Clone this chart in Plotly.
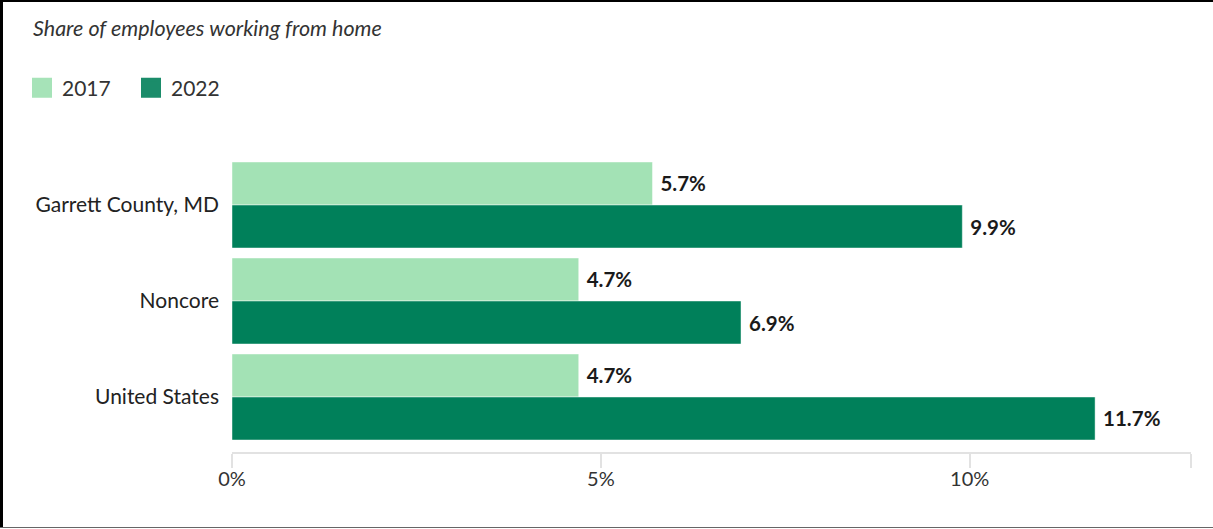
import plotly.graph_objects as go

categories = ["Garrett County, MD", "Noncore", "United States"]
years = ["2017", "2022"]
values_2017 = [5.7, 4.7, 4.7]
values_2022 = [9.9, 6.9, 11.7]
tick_values = [0, 5, 10, 13]
tick_labels = ["0%", "5%", "10%", ""]

colors = {"2017": "#a3e2b5", "2022": "#00805a"}
legend_colors = {"2017": "#a6e3b8", "2022": "#1b8c6a"}
FONT = "Lato, 'Open Sans', sans-serif"

W, H = 1213, 529
L, R, T, B = 232, 22, 157, 77
pw, ph = W - L - R, H - T - B


def px_x(p):
    return (p - L) / pw


def px_y(q):
    return (H - B - q) / ph


fig = go.Figure()
for yr, vals in zip(years, [values_2017, values_2022]):
    fig.add_trace(go.Bar(
        y=categories, x=vals, orientation="h", name=yr,
        marker=dict(color=colors[yr], line=dict(color="rgba(255,255,255,0.45)", width=1)),
        texttemplate=" %{x:.1f}%", textposition="outside",
        textfont=dict(family=FONT, size=20.5, color="#1a1a1a", weight="bold"),
        cliponaxis=False, showlegend=False, hoverinfo="skip",
    ))

for yr in years:
    fig.add_trace(go.Scatter(
        x=[None], y=[None], mode="markers", name=yr,
        marker=dict(symbol="square", size=16, color=legend_colors[yr],
                    line=dict(color=legend_colors[yr], width=4)),
        showlegend=True,
    ))

fig.update_layout(
    width=W, height=H,
    margin=dict(l=L, r=R, t=T, b=B),
    paper_bgcolor="white", plot_bgcolor="white",
    barmode="group", bargap=0.104, bargroupgap=0,
    font=dict(family=FONT, color="#333"),
    showlegend=True,
    legend=dict(
        orientation="h", x=px_x(22), y=px_y(88), xanchor="left", yanchor="middle",
        font=dict(family=FONT, size=21, color="#333"),
        itemsizing="trace", bgcolor="rgba(0,0,0,0)", tracegroupgap=0,
        entrywidth=64, entrywidthmode="pixels",
    ),
    xaxis=dict(
        range=[0, 13], tickvals=tick_values, ticktext=tick_labels,
        showgrid=False, zeroline=False, showline=True, linecolor="#e2e2e2", linewidth=2,
        ticks="outside", ticklen=14, tickwidth=2, tickcolor="#e2e2e2",
        ticklabelstandoff=-6,
        tickfont=dict(family=FONT, size=20, color="#333"),
    ),
    yaxis=dict(
        categoryorder="array", categoryarray=categories,
        range=[2.573, -0.5], showgrid=False, zeroline=False, showline=False,
        ticks="", ticklabelstandoff=12,
        tickfont=dict(family=FONT, size=21, color="#222"),
    ),
    annotations=[dict(
        text="Share of employees working from home", xref="paper", yref="paper",
        x=px_x(31), y=px_y(28), xanchor="left", yanchor="middle", showarrow=False,
        font=dict(family=FONT, size=21.5, color="#333", style="italic"),
    )],
    shapes=[
        dict(type="line", xref="paper", yref="paper", x0=px_x(1.5), x1=px_x(1.5),
             y0=px_y(0), y1=px_y(528), line=dict(color="black", width=3)),
        dict(type="line", xref="paper", yref="paper", x0=px_x(0), x1=px_x(1213),
             y0=px_y(1), y1=px_y(1), line=dict(color="black", width=2)),
        dict(type="line", xref="paper", yref="paper", x0=px_x(0), x1=px_x(1213),
             y0=px_y(527.5), y1=px_y(527.5), line=dict(color="#666", width=1)),
    ],
)

fig.write_html("out.html")
